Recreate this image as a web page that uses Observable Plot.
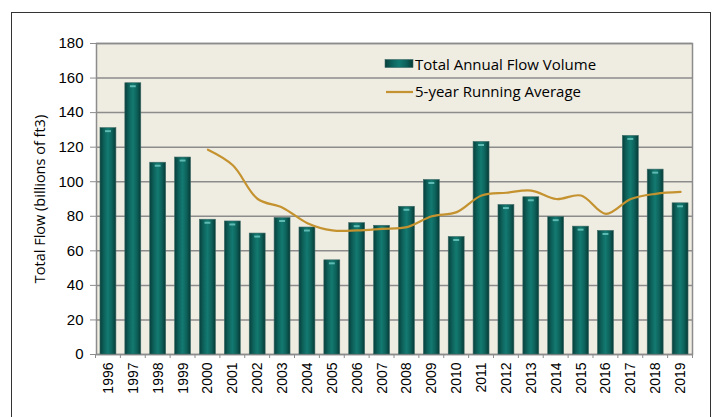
<!DOCTYPE html>
<html>
<head>
<meta charset="utf-8">
<script src="https://cdn.jsdelivr.net/npm/d3@7"></script>
<script src="https://cdn.jsdelivr.net/npm/@observablehq/plot@0.6"></script>
<style>
  html, body { margin: 0; padding: 0; background: #fff; overflow: hidden; }
  #wrap { position: relative; width: 715px; height: 417px; }
  #box { position: absolute; left: 11px; top: 12px; width: 700px; height: 420px; border: 1px solid #333; box-sizing: border-box; }
  #chart { position: absolute; left: 0; top: 0; }
</style>
</head>
<body>
<div id="wrap"><div id="box"></div><div id="chart"></div></div>
<script>
const years = ["1996","1997","1998","1999","2000","2001","2002","2003","2004","2005","2006","2007","2008","2009","2010","2011","2012","2013","2014","2015","2016","2017","2018","2019"];
const flow = [131, 157, 111, 114, 78, 77, 70, 79, 73.5, 54.5, 76, 74.5, 85.5, 101, 68, 123, 86.5, 91, 79.5, 74, 71.5, 126.5, 107, 87.5];
const avgYears = ["2000","2001","2002","2003","2004","2005","2006","2007","2008","2009","2010","2011","2012","2013","2014","2015","2016","2017","2018","2019"];
const avg = [118.5, 109.5, 90, 85, 76, 71.8, 71.8, 72.7, 73.7, 80, 82.4, 92, 93.6, 94.9, 90, 92, 81.4, 90, 93, 94.1];
const yTicks = [0, 20, 40, 60, 80, 100, 120, 140, 160, 180];
const legendLabels = ["Total Annual Flow Volume", "5-year Running Average"];

const bars = years.map((yr, i) => ({year: yr, value: flow[i]}));
const line = avgYears.map((yr, i) => ({year: yr, value: avg[i]}));

const chart = Plot.plot({
  width: 715,
  height: 417,
  marginLeft: 96,
  marginRight: 23,
  marginTop: 43,
  marginBottom: 63,
  style: {fontFamily: "'Liberation Sans', Arial, sans-serif", fontSize: "15px", color: "#000", background: "transparent"},
  x: {type: "band", domain: years, paddingInner: 0.36, paddingOuter: 0.16, align: 0.5, round: false, label: null},
  y: {domain: [0, 180], label: null},
  marks: [
    Plot.frame({fill: "#EFECE2", stroke: "#8c8c8c", strokeWidth: 1.5}),
    Plot.gridY(yTicks, {stroke: "#8c8c8c", strokeOpacity: 1, strokeWidth: 1.5}),
    Plot.barY(bars, {x: "year", y: "value", fill: "url(#barGrad)", stroke: "#3d6a66", strokeWidth: 0.6}),
    Plot.tickY(bars, {x: "year", y: "value", dy: 3, insetLeft: 5, insetRight: 5, stroke: "#78d3cb", strokeWidth: 2, strokeOpacity: 0.75}),
    Plot.lineY(line, {x: "year", y: "value", curve: "catmull-rom", stroke: "#C4922E", strokeWidth: 2.2}),
    Plot.axisY(yTicks, {tickSize: 6, tickPadding: 7, stroke: "#8c8c8c", label: null, fontSize: 15}),
    Plot.axisX({tickSize: 0, tickPadding: 8, tickRotate: -90, fontSize: 14, label: null}),
    Plot.axisY({label: "Total Flow (billions of ft3)", labelAnchor: "center", labelArrow: "none", ticks: [], tickSize: 0, labelOffset: 62, fontFamily: "'Open Sans', sans-serif", fontSize: 14.5})
  ]
});

const svg = d3.select(chart);
svg.insert("defs", ":first-child").html(`
  <linearGradient id="barGrad" x1="0" y1="0" x2="1" y2="0">
    <stop offset="0" stop-color="#083f3b"/>
    <stop offset="0.25" stop-color="#0d625b"/>
    <stop offset="0.5" stop-color="#137a71"/>
    <stop offset="0.75" stop-color="#0d625b"/>
    <stop offset="1" stop-color="#073a36"/>
  </linearGradient>`);

// band boundary ticks on x axis
const xs = chart.scale("x");
const ys = chart.scale("y");
const step = xs.step ?? (xs.bandwidth / (1 - 0.36));
const y0 = ys.apply(0);
const gt = svg.append("g").attr("stroke", "#8c8c8c").attr("stroke-width", 1);
years.forEach((yr, i) => {
  const left = xs.apply(yr) - (step - xs.bandwidth) / 2;
  gt.append("line").attr("x1", left).attr("x2", left).attr("y1", y0).attr("y2", y0 + 4);
  if (i === years.length - 1) {
    const right = left + step;
    gt.append("line").attr("x1", right).attr("x2", right).attr("y1", y0).attr("y2", y0 + 4);
  }
});

// legend
const lg = svg.append("g").attr("font-family", "'Open Sans', sans-serif").attr("font-size", 15).attr("text-anchor", "start").attr("fill", "#000");
lg.append("rect").attr("x", 385).attr("y", 59.5).attr("width", 28).attr("height", 8).attr("fill", "url(#barGrad)").attr("stroke", "#3d6a66").attr("stroke-width", 0.6);
lg.append("line").attr("x1", 386).attr("x2", 413).attr("y1", 92).attr("y2", 92).attr("stroke", "#C4922E").attr("stroke-width", 2.2);
lg.append("text").attr("x", 415).attr("y", 69.5).attr("text-anchor", "start").text(legendLabels[0]);
lg.append("text").attr("x", 415).attr("y", 97).attr("text-anchor", "start").text(legendLabels[1]);

document.getElementById("chart").appendChild(chart);
</script>
</body>
</html>
